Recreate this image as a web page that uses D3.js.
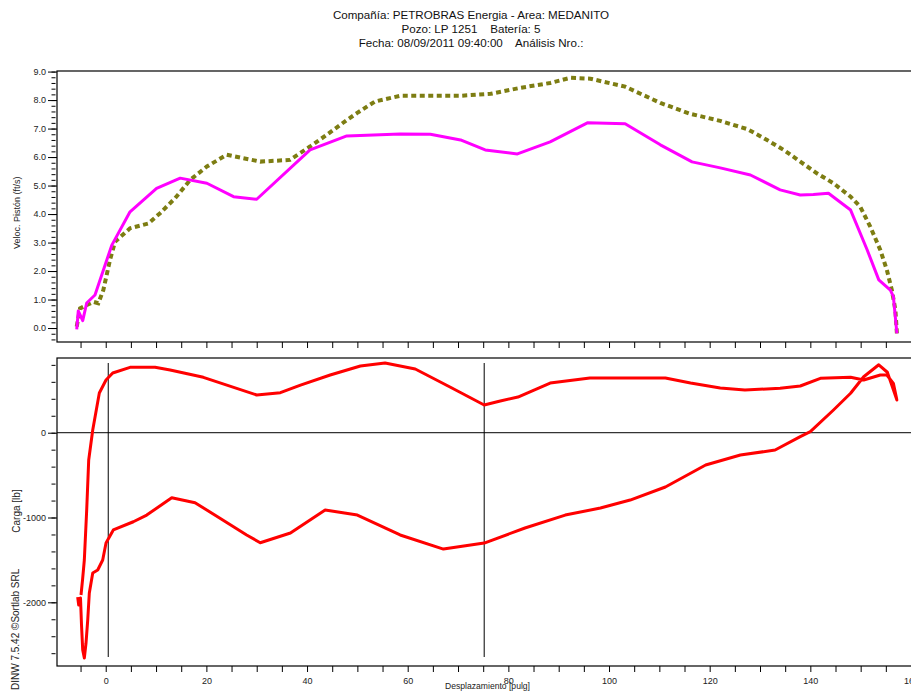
<!DOCTYPE html>
<html>
<head>
<meta charset="utf-8">
<script src="https://cdn.jsdelivr.net/npm/d3@7/dist/d3.min.js"></script>
<style>
  html, body { margin: 0; padding: 0; background: #fff; }
  svg { display: block; font-family: "Liberation Sans", Arial, sans-serif; }
</style>
</head>
<body>
<svg id="chart" width="911" height="696"></svg>
<script>
// ---------------- DATA ----------------
const titleLines = [
  "Compañía: PETROBRAS Energia - Area: MEDANITO",
  "Pozo: LP 1251    Batería: 5",
  "Fecha: 08/09/2011 09:40:00    Análisis Nro.:"
];
const velocLabel = "Veloc. Pistón (ft/s)";
const cargaLabel = "Carga [lb]";
const xLabel = "Desplazamiento [pulg]";
const footerLabel = "DINW 7.5.42 ©Sortlab SRL";

const xTicksMajor = [0, 20, 40, 60, 80, 100, 120, 140, 160];
const xTicksMinor = [-5, 0, 5, 10, 15, 20, 25, 30, 35, 40, 45, 50, 55, 60, 65, 70, 75, 80, 85, 90, 95, 100, 105, 110, 115, 120, 125, 130, 135, 140, 145, 150, 155, 160];
const velocTicksMajor = [0, 1, 2, 3, 4, 5, 6, 7, 8, 9];
const cargaTicksMajor = [-2000, -1000, 0];

// Piston velocity - magenta (solid) [position, ft/s]
const velocMagenta = [
  [-5.76,-0.05],[-5.45,0.6],[-4.57,0.26],[-3.78,0.88],[-2.13,1.16],[1.19,2.9],[4.83,4.08],
  [10.1,4.9],[14.8,5.26],[20.1,5.08],[25.4,4.61],[30.0,4.52],[40.6,6.25],[47.9,6.74],
  [58.5,6.81],[64.5,6.8],[70.5,6.6],[75.4,6.25],[81.8,6.11],[88.3,6.53],[95.7,7.2],
  [103.2,7.17],[110.2,6.43],[116.5,5.83],[122.1,5.62],[128.1,5.37],[134,4.85],[138,4.67],
  [140.6,4.69],[143.6,4.73],[148,4.14],[151.3,2.74],[153.6,1.69],[155.9,1.33],[156.5,1.1],
  [157.2,-0.19]
];
// Piston velocity - olive (dotted)
const velocOlive = [
  [-5.76,0.05],[-5.1,0.69],[-2.46,0.92],[-1.47,0.87],[-0.48,1.33],[0.85,2.39],[1.85,3.03],
  [4.83,3.5],[8.47,3.67],[10.8,4.03],[13.8,4.56],[16.8,5.2],[20.1,5.67],[24.05,6.08],
  [27.35,5.96],[30.7,5.84],[36.6,5.9],[40.6,6.37],[43.9,6.78],[47.9,7.3],[49.9,7.54],
  [53.5,7.95],[58.5,8.15],[64.5,8.15],[70.5,8.15],[76.5,8.22],[82.4,8.43],[88.3,8.6],
  [92.3,8.78],[96.3,8.75],[103.2,8.47],[110.2,7.9],[116.1,7.52],[122.1,7.27],[127.5,6.98],
  [131.4,6.6],[134.7,6.25],[138,5.84],[141.3,5.43],[144.6,5.08],[148,4.61],[149.9,4.26],
  [151.9,3.56],[153.9,2.74],[155.2,2.04],[156.2,1.33],[156.9,0.63],[157.2,-0.19]
];
// Load card (closed loop) [position, lb]
const cargaLoop = [
  [-5.57,-1939],[-5.37,-2033],[-5.01,-1950],[-4.81,-2268],[-4.57,-2563],[-4.25,-2657],
  [-3.92,-2483],[-3.58,-2212],[-3.26,-1890],[-2.58,-1654],[-1.59,-1619],[-0.6,-1501],
  [0.06,-1300],[1.51,-1147],[5.49,-1050],[8.15,-971],[13.12,-767],[17.75,-825],[22.7,-1009],
  [28.0,-1206],[30.7,-1297],[36.7,-1183],[43.6,-912],[50.0,-971],[58.5,-1206],[67.1,-1372],
  [75.2,-1301],[83.3,-1124],[91.3,-971],[98.3,-888],[104.2,-794],[111.2,-640],[119.2,-381],
  [126.1,-263],[133.0,-204],[138,-47],[140,12],[144.6,268],[148,465],[150.6,660],[153.6,801],
  [155.3,713],[157.2,386],
  [156.5,582],[155.2,680],[153.9,680],[150.6,621],[148,653],[142,641],[138,551],[134,523],
  [127,504],[122.1,527],[116.2,586],[111.2,645],[104.2,645],[96.2,645],[88.3,586],[81.9,421],
  [78.4,374],[75.2,327],[68.4,539],[61.5,751],[55.5,822],[50.6,786],[44.6,680],[38.7,562],
  [34.7,472],[30.0,445],[19.4,653],[12.8,740],[9.8,771],[4.83,771],[1.39,704],[0.06,621],
  [-1.27,468],[-2.58,32],[-3.38,-322],[-3.78,-912],[-4.25,-1501],[-4.61,-1737],[-4.91,-1914]
];
const markerPositions = [0.5, 75.2];
const markerExtent = [-2645, 822];

// ---------------- LAYOUT ----------------
const svg = d3.select("#chart");
const L = 57, R = 911;
const top1 = 71, bot1 = 342;
const top2 = 358, bot2 = 666;

const x = d3.scaleLinear().domain([-9.68, 160]).range([L, R]);
const yV = d3.scaleLinear().domain([-0.49, 9.02]).range([bot1, top1]);
const yC = d3.scaleLinear().domain([-2751, 881]).range([bot2, top2]);

const tickFont = 9;

// Title
svg.append("g").selectAll("text").data(titleLines).join("text")
  .attr("x", 471).attr("y", (d, i) => 19 + i * 14)
  .attr("text-anchor", "middle").attr("font-size", 11.6).attr("fill", "#111")
  .style("white-space", "pre").attr("xml:space", "preserve")
  .text(d => d);

// Frames
svg.append("rect").attr("x", L).attr("y", top1).attr("width", R - L + 5).attr("height", bot1 - top1)
  .attr("fill", "none").attr("stroke", "#000").attr("stroke-width", 1.2);
svg.append("rect").attr("x", L).attr("y", top2).attr("width", R - L + 5).attr("height", bot2 - top2)
  .attr("fill", "none").attr("stroke", "#000").attr("stroke-width", 1.2);

function styleAxis(g) {
  g.select(".domain").remove();
  g.selectAll("line").attr("stroke", "#000");
  g.selectAll("text").attr("font-size", tickFont).attr("fill", "#222")
    .attr("font-family", "'Liberation Sans', Arial, sans-serif");
}

// Top panel y axis
svg.append("g").attr("transform", `translate(${L},0)`)
  .call(d3.axisLeft(yV).tickValues(velocTicksMajor).tickSize(9).tickPadding(2).tickFormat(d => d.toFixed(1)))
  .call(styleAxis);
svg.append("g").attr("transform", `translate(${L - 1.5},0)`)
  .call(d3.axisLeft(yV).tickValues(d3.range(-0.4, 9.01, 0.2)).tickSize(4).tickFormat(""))
  .call(styleAxis);

// Top panel x ticks (no labels)
svg.append("g").attr("transform", `translate(0,${bot1})`)
  .call(d3.axisBottom(x).tickValues(xTicksMinor).tickSize(6).tickFormat(""))
  .call(styleAxis);

// Bottom panel y axis
svg.append("g").attr("transform", `translate(${L},0)`)
  .call(d3.axisLeft(yC).tickValues(cargaTicksMajor).tickSize(9).tickPadding(2).tickFormat(d => String(d)))
  .call(styleAxis);
svg.append("g").attr("transform", `translate(${L - 1.5},0)`)
  .call(d3.axisLeft(yC).tickValues(d3.range(-2600, 801, 200)).tickSize(4).tickFormat(""))
  .call(styleAxis);

// Bottom panel x axis
svg.append("g").attr("transform", `translate(0,${bot2})`)
  .call(d3.axisBottom(x).tickValues(xTicksMinor).tickSize(6).tickFormat(""))
  .call(styleAxis);
svg.append("g").attr("transform", `translate(0,${bot2})`)
  .call(d3.axisBottom(x).tickValues(xTicksMajor).tickSize(0).tickPadding(12).tickFormat(d => String(d)))
  .call(styleAxis);

// Axis titles
svg.append("text").attr("transform", `translate(20,${(yV(0) + yV(9)) / 2 + 13}) rotate(-90)`)
  .attr("text-anchor", "middle").attr("font-size", 9).attr("fill", "#222").text(velocLabel);
svg.append("text").attr("transform", `translate(20,511) rotate(-90)`)
  .attr("text-anchor", "middle").attr("font-size", 10).attr("fill", "#222").text(cargaLabel);
svg.append("text").attr("transform", `translate(19,690) rotate(-90)`)
  .attr("text-anchor", "start").attr("font-size", 10).attr("fill", "#222").text(footerLabel);
svg.append("text").attr("x", 445).attr("y", 689)
  .attr("font-size", 9.5).attr("fill", "#222")
  .attr("textLength", 85).attr("lengthAdjust", "spacingAndGlyphs").text(xLabel);

// Bottom panel reference lines
svg.append("line").attr("x1", L).attr("x2", R).attr("y1", yC(0)).attr("y2", yC(0))
  .attr("stroke", "#000").attr("stroke-width", 1);
svg.append("g").selectAll("line").data(markerPositions).join("line")
  .attr("x1", d => x(d)).attr("x2", d => x(d))
  .attr("y1", yC(markerExtent[0])).attr("y2", yC(markerExtent[1]))
  .attr("stroke", "#000").attr("stroke-width", 1);

// Lines
const lineV = d3.line().x(d => x(d[0])).y(d => yV(d[1]));
const lineC = d3.line().x(d => x(d[0])).y(d => yC(d[1]));

svg.append("path").datum(velocOlive).attr("d", lineV)
  .attr("fill", "none").attr("stroke", "#7d7d12").attr("stroke-width", 4)
  .attr("stroke-dasharray", "5,3.5");
svg.append("path").datum(velocMagenta).attr("d", lineV)
  .attr("fill", "none").attr("stroke", "#ff00ff").attr("stroke-width", 3)
  .attr("stroke-linejoin", "round");
svg.append("path").datum(cargaLoop).attr("d", lineC)
  .attr("fill", "none").attr("stroke", "#ff0000").attr("stroke-width", 3)
  .attr("stroke-linejoin", "round");
</script>
</body>
</html>
